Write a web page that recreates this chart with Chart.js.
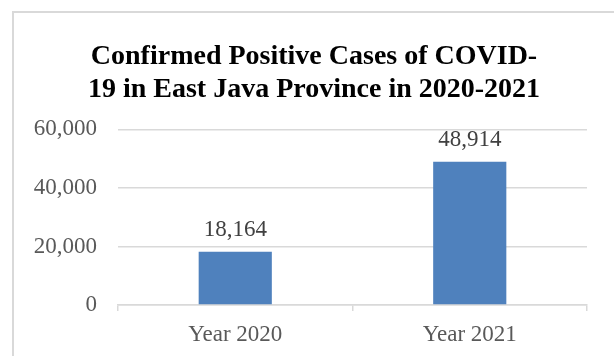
<!DOCTYPE html>
<html>
<head>
<meta charset="utf-8">
<script src="https://cdn.jsdelivr.net/npm/chart.js@4/dist/chart.umd.min.js"></script>
<style>
  html, body { margin: 0; padding: 0; background: #fff; }
  #wrap { position: relative; width: 614px; height: 356px; overflow: hidden; }
  #frame { position: absolute; left: 12px; top: 11px; width: 800px; height: 500px;
           border-left: 2px solid #d9d9d9; border-top: 2px solid #d9d9d9; }
  canvas { position: absolute; left: 0; top: 0; }
</style>
</head>
<body>
<div id="wrap">
  <div id="frame"></div>
  <canvas id="c" width="614" height="356"></canvas>
</div>
<script>
const categories = ["Year 2020", "Year 2021"];
const cases = [18164, 48914];
const titleLines = ["Confirmed Positive Cases of COVID-", "19 in East Java Province in 2020-2021"];
const yTicks = [0, 20000, 40000, 60000];

const fmt = v => v.toLocaleString('en-US');

const valueLabels = {
  id: 'valueLabels',
  afterDatasetsDraw(chart) {
    const ctx = chart.ctx;
    const meta = chart.getDatasetMeta(0);
    ctx.save();
    ctx.font = '23px "Liberation Serif", "Times New Roman", serif';
    ctx.fillStyle = '#404040';
    ctx.textAlign = 'center';
    ctx.textBaseline = 'middle';
    meta.data.forEach((bar, i) => {
      ctx.fillText(fmt(chart.data.datasets[0].data[i]), bar.x, bar.y - 22);
    });
    ctx.restore();
  }
};

// shift the title's horizontal box so it is centred like the original
const titleShift = {
  id: 'titleShift',
  afterLayout(chart) {
    if (chart.titleBlock) { chart.titleBlock.left += 26; }
  }
};

new Chart(document.getElementById('c'), {
  type: 'bar',
  data: {
    labels: categories,
    datasets: [{
      data: cases,
      backgroundColor: '#4f81bd',
      borderWidth: 0,
      barPercentage: 0.312,
      categoryPercentage: 1
    }]
  },
  options: {
    responsive: false,
    animation: false,
    layout: { padding: { left: 15, right: 27, top: 41, bottom: 0 } },
    plugins: {
      legend: { display: false },
      tooltip: { enabled: false },
      title: {
        display: true,
        text: titleLines,
        color: '#000',
        font: { family: '"Liberation Serif", "Times New Roman", serif', size: 28, weight: 'bold', lineHeight: 1.15 },
        padding: { top: 0, bottom: 24 }
      }
    },
    scales: {
      x: {
        grid: { display: true, drawOnChartArea: false, drawTicks: true, tickLength: 6, color: '#d9d9d9', lineWidth: 1.5 },
        border: { display: true, color: '#d9d9d9', width: 1.5 },
        ticks: { color: '#595959', font: { family: '"Liberation Serif", "Times New Roman", serif', size: 23 }, padding: 10 },
        afterFit(scale) { scale.height = 51; }
      },
      y: {
        min: 0, max: 60000,
        afterBuildTicks(scale) { scale.ticks = yTicks.map(v => ({ value: v })); },
        grid: { color: '#d9d9d9', lineWidth: 1.5, drawTicks: false },
        border: { display: false },
        ticks: {
          color: '#595959',
          font: { family: '"Liberation Serif", "Times New Roman", serif', size: 23 },
          padding: 21,
          callback: v => fmt(v)
        },
        afterFit(scale) { scale.width = 103; }
      }
    }
  },
  plugins: [valueLabels, titleShift]
});
</script>
</body>
</html>
